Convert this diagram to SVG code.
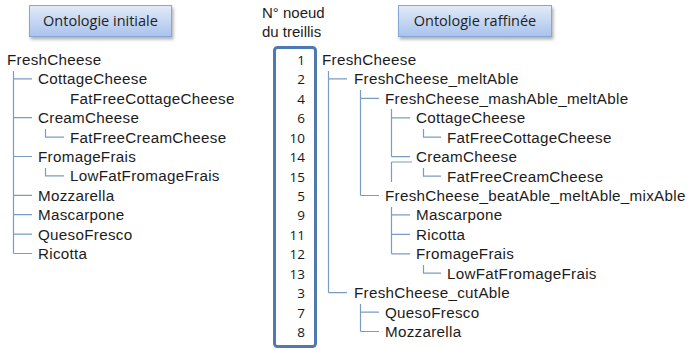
<svg xmlns="http://www.w3.org/2000/svg" width="691" height="350" viewBox="0 0 691 350">
<defs>
<linearGradient id="gb" x1="0" y1="0" x2="0" y2="1">
<stop offset="0" stop-color="#e2ebf9"/>
<stop offset="1" stop-color="#a9c3ec"/>
</linearGradient>
<filter id="sh" x="-20%" y="-30%" width="140%" height="170%">
<feDropShadow dx="1.5" dy="2.5" stdDeviation="1.5" flood-color="#000" flood-opacity="0.3"/>
</filter>
</defs>
<style>
.t{font-family:"Liberation Sans",Arial,sans-serif;font-size:15.2px;letter-spacing:0.3px;fill:#1c1c1c}
.h{font-family:"Liberation Sans",Arial,sans-serif;font-size:15px;fill:#1c1c1c}
.n{font-family:"Open Sans","Liberation Sans",sans-serif;font-size:13.5px;fill:#161616;text-anchor:end}
.ti{font-family:"Open Sans","Liberation Sans",sans-serif;font-size:14.5px;fill:#222;text-anchor:middle}
.box{fill:url(#gb);stroke:#86a6d8;stroke-width:1;filter:url(#sh)}
.c{stroke:#7b9cc2;stroke-width:1.2;fill:none}
</style>
<g id="title-initiale">
<rect class="box" x="29.5" y="5.5" width="142" height="31"/>
<text class="ti" x="100.5" y="26">Ontologie initiale</text>
</g>
<g id="title-raffinee">
<rect class="box" x="398.5" y="5.5" width="153" height="31"/>
<text class="ti" x="475" y="26">Ontologie raffinée</text>
</g>
<g id="header-noeud">
<text class="h" x="262" y="18">N° noeud</text>
<text class="h" x="262" y="37">du treillis</text>
</g>
<g id="numbers">
<rect x="274.5" y="47.5" width="41" height="299" rx="3" fill="#fff" stroke="#5079b2" stroke-width="3"/>
<text class="n" x="305" y="65">1</text>
<text class="n" x="305" y="84.4">2</text>
<text class="n" x="305" y="103.9">4</text>
<text class="n" x="305" y="123.3">6</text>
<text class="n" x="305" y="142.7">10</text>
<text class="n" x="305" y="162.2">14</text>
<text class="n" x="305" y="181.6">15</text>
<text class="n" x="305" y="201">5</text>
<text class="n" x="305" y="220.4">9</text>
<text class="n" x="305" y="239.9">11</text>
<text class="n" x="305" y="259.3">12</text>
<text class="n" x="305" y="278.7">13</text>
<text class="n" x="305" y="298.2">3</text>
<text class="n" x="305" y="317.6">7</text>
<text class="n" x="305" y="337">8</text>
</g>
<g id="left-tree">
<text class="t" x="7" y="65">FreshCheese</text>
<text class="t" x="38" y="84.4">CottageCheese</text>
<text class="t" x="70" y="103.8">FatFreeCottageCheese</text>
<text class="t" x="38" y="123.2">CreamCheese</text>
<text class="t" x="70" y="142.6">FatFreeCreamCheese</text>
<text class="t" x="38" y="162">FromageFrais</text>
<text class="t" x="70" y="181.4">LowFatFromageFrais</text>
<text class="t" x="38" y="200.8">Mozzarella</text>
<text class="t" x="38" y="220.2">Mascarpone</text>
<text class="t" x="38" y="239.6">QuesoFresco</text>
<text class="t" x="38" y="259">Ricotta</text>
</g>
<g id="right-tree">
<text class="t" x="322" y="65">FreshCheese</text>
<text class="t" x="354" y="84.4">FreshCheese_meltAble</text>
<text class="t" x="385" y="103.9">FreshCheese_mashAble_meltAble</text>
<text class="t" x="416" y="123.3">CottageCheese</text>
<text class="t" x="447" y="142.7">FatFreeCottageCheese</text>
<text class="t" x="416" y="162.2">CreamCheese</text>
<text class="t" x="447" y="181.6">FatFreeCreamCheese</text>
<text class="t" x="385" y="201">FreshCheese_beatAble_meltAble_mixAble</text>
<text class="t" x="416" y="220.4">Mascarpone</text>
<text class="t" x="416" y="239.9">Ricotta</text>
<text class="t" x="416" y="259.3">FromageFrais</text>
<text class="t" x="447" y="278.7">LowFatFromageFrais</text>
<text class="t" x="354" y="298.2">FreshCheese_cutAble</text>
<text class="t" x="385" y="317.6">QuesoFresco</text>
<text class="t" x="385" y="337">Mozzarella</text>
</g>
<g id="connectors">
<path class="c" d="M13.5 71V253.5 M13.5 78.9H32 M13.5 117.7H32 M13.5 156.5H32 M13.5 195.3H32 M13.5 214.7H32 M13.5 234.1H32 M13.5 253.5H32"/>
<path class="c" d="M45.5 129V137.1H64 M45.5 168V175.9H64"/>
<path class="c" d="M328.5 71V292.7 M328.5 78.9H347 M328.5 292.7H347"/>
<path class="c" d="M360.5 90V195.5 M360.5 98.4H379 M360.5 195.5H379"/>
<path class="c" d="M391.5 109V156.7 M391.5 117.8H410 M391.5 156.7H410 M391.5 162H412 M391.5 162V182"/>
<path class="c" d="M423.5 129V137.2H441 M423.5 168V176.1H441"/>
<path class="c" d="M391.5 207V253.8 M391.5 214.9H410 M391.5 234.4H410 M391.5 253.8H410"/>
<path class="c" d="M423.5 265V273.2H441"/>
<path class="c" d="M360.5 304V331.5 M360.5 312.1H379 M360.5 331.5H379"/>
</g>
</svg>
